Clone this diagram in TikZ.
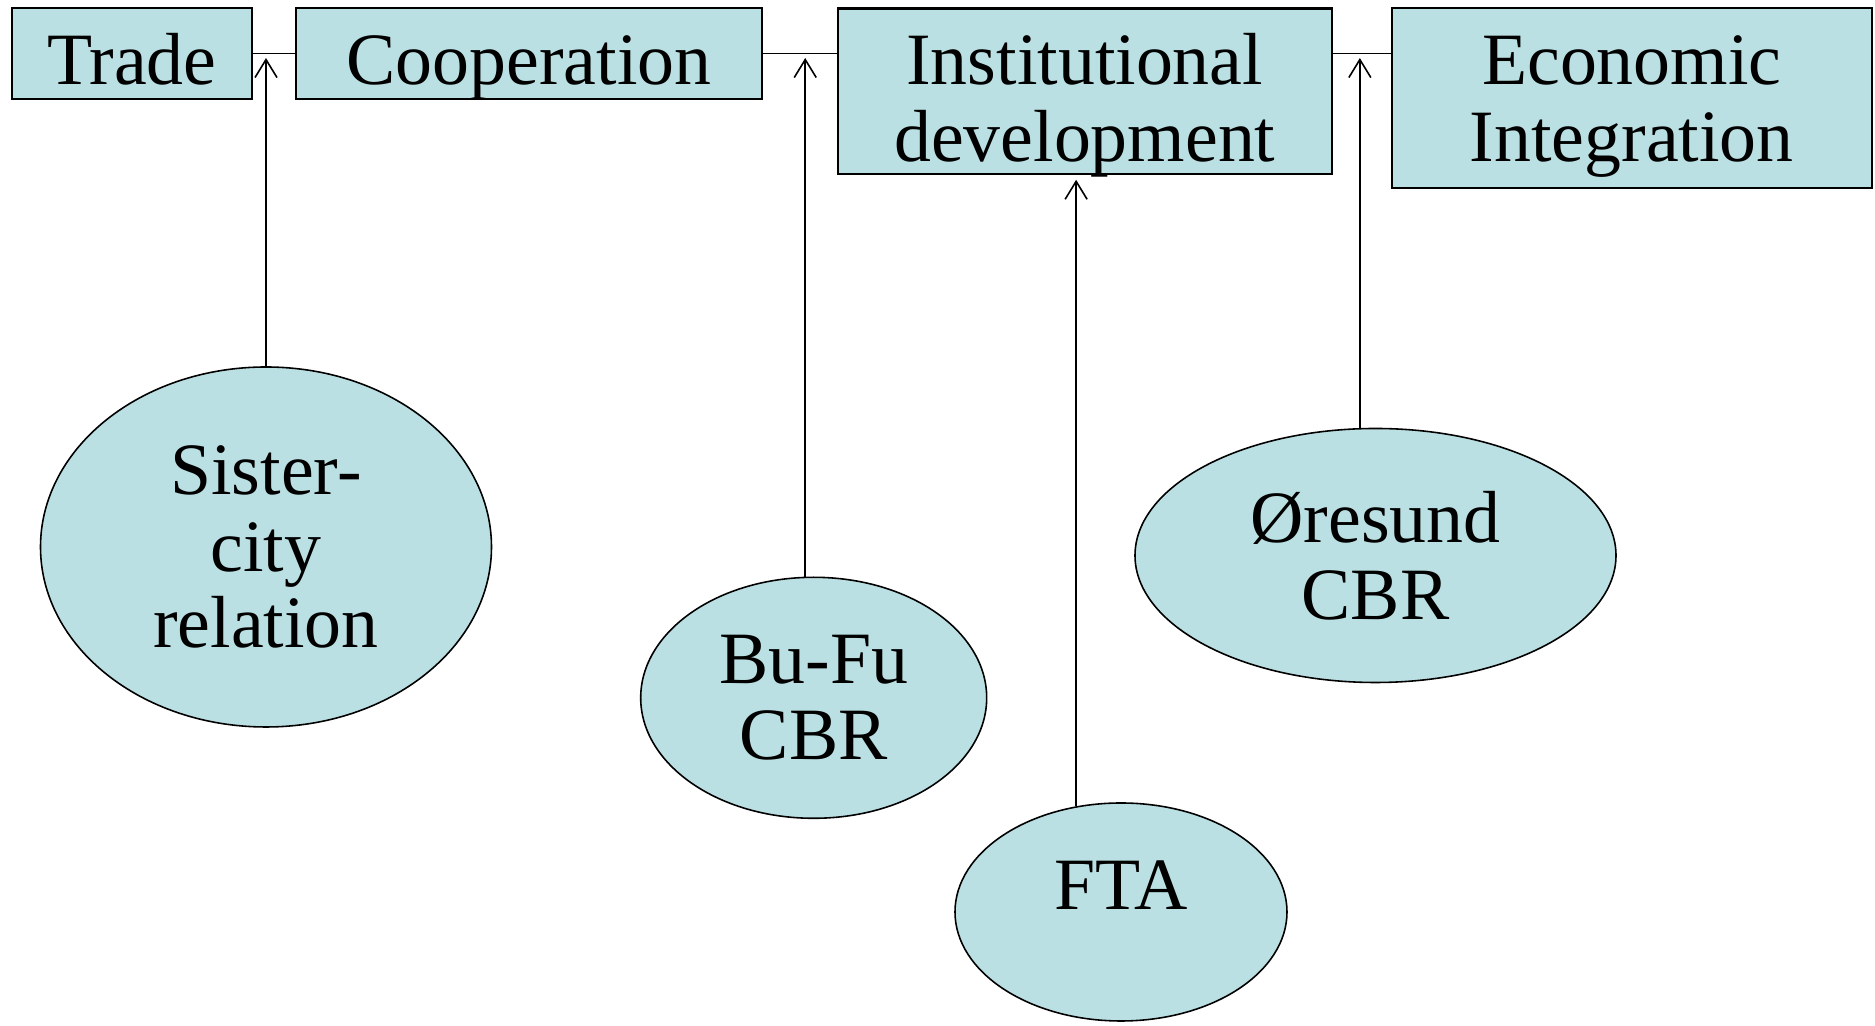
\documentclass[tikz,border=0pt]{standalone}
\usepackage{fontspec}
\setmainfont{Liberation Serif}
\usepackage{tikz}
\usetikzlibrary{shapes.geometric, arrows.meta}

\definecolor{boxblue}{RGB}{187,224,227}
\newcommand{\diagfont}{\fontsize{21}{21.8}\selectfont}

\begin{document}
\begin{tikzpicture}[>={Straight Barb[length=1.8mm,width=2.2mm]}, line width=0.45pt,
    stage/.style={draw, line width=0.6pt, fill=boxblue, inner sep=0pt, anchor=north west, font=\diagfont, align=center},
    case/.style={ellipse, draw, fill=boxblue, inner sep=0pt, font=\diagfont, align=center}]
    \useasboundingbox (0,0) rectangle (18.75,-10.26);
    % stages along the top
    \node[stage, minimum width=2.40cm, text height=0.76cm, text depth=0.144cm] (trade) at (0.107,-0.073) {Trade};
    \node[stage, minimum width=4.66cm, text height=0.76cm, text depth=0.144cm] (coop) at (2.95,-0.073) {Cooperation};
    \node[stage, minimum width=4.94cm, text height=1.525cm, text depth=0.127cm] (inst) at (8.367,-0.075) {Institutional\\development};
    \node[stage, minimum width=4.80cm, text height=1.527cm, text depth=0.273cm] (econ) at (13.907,-0.073) {Economic\\Integration};
    \draw (trade.east) -- (coop.west);
    \draw (coop.east) -- (coop.east -| inst.west);
    \draw (coop.east -| inst.east) -- (coop.east -| econ.west);
    % cases
    \node[case, minimum width=4.51cm, minimum height=3.60cm] (sister) at (2.66,-5.47) {Sister-\\city\\relation};
    \node[case, minimum width=3.46cm, minimum height=2.41cm] (bufu) at (8.137,-6.978) {Bu-Fu\\CBR};
    \node[case, minimum width=3.32cm, minimum height=2.18cm, text height=0.47cm, text depth=0.51cm] (fta) at (11.21,-9.12) {FTA};
    \node[case, minimum width=4.81cm, minimum height=2.54cm] (oresund) at (13.755,-5.555) {Øresund\\CBR};
    \draw[->, shorten >=0.45mm] (sister.north) -- (sister.north |- trade.east);
    \draw[->, shorten >=0.45mm] (bufu.94) -- (bufu.94 |- coop.east);
    \draw[->, shorten >=0.5mm] (fta.113) -- (fta.113 |- inst.south);
    \draw[->, shorten >=0.45mm] (oresund.97) -- (oresund.97 |- coop.east);
\end{tikzpicture}
\end{document}
